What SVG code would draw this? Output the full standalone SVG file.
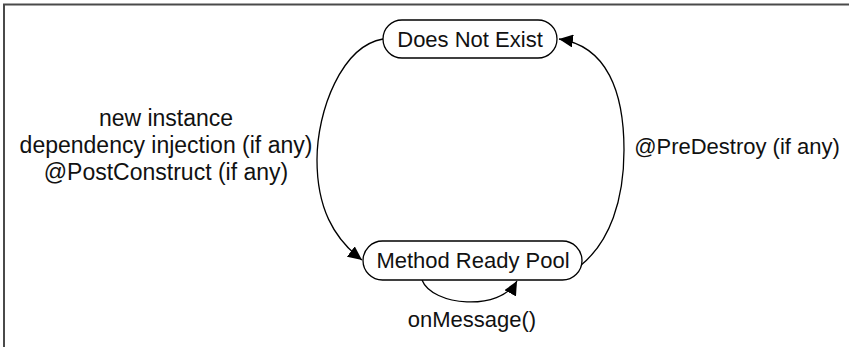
<svg xmlns="http://www.w3.org/2000/svg" width="849" height="347" viewBox="0 0 849 347">
  <style>
    .frame { stroke: #4a4a4a; stroke-width: 2; fill: none; }
    .state rect { fill: #ffffff; stroke: #000000; stroke-width: 1.3; }
    .label { font-family: "Liberation Sans", Arial, sans-serif; font-size: 22px; fill: #111111; text-anchor: middle; }
    .wide { font-size: 23px; }
    .edge { fill: none; stroke: #000000; stroke-width: 1.3; marker-end: url(#arrow); }
  </style>
  <defs>
    <marker id="arrow" markerUnits="userSpaceOnUse" markerWidth="15" markerHeight="13" refX="14" refY="6.5" orient="auto">
      <path d="M0,0 L14,6.5 L0,13 Z" fill="#000000"/>
    </marker>
  </defs>

  <rect width="849" height="347" fill="#ffffff"/>
  <!-- frame: top and left edges only -->
  <path class="frame" d="M4,347 V4.5 H849"/>

  <g id="connectors">
    <!-- creation: Does Not Exist -> Method Ready Pool -->
    <path class="edge" d="M383,39 C342,46 317,110 317,160 C317,207 333,238 362,260"/>
    <!-- removal: Method Ready Pool -> Does Not Exist -->
    <path class="edge" d="M580,266 C610,242 624,200 624,150 C624,92 607,46 559,39"/>
    <!-- onMessage self loop -->
    <path class="edge" d="M422,280 C432,306 500,312 517,281"/>
  </g>

  <g id="does-not-exist" class="state">
    <rect x="383" y="20" width="174" height="38" rx="19" ry="19"/>
    <text class="label" x="470" y="47">Does Not Exist</text>
  </g>

  <g id="method-ready-pool" class="state">
    <rect x="363" y="241" width="219" height="39" rx="19.5" ry="19.5"/>
    <text class="label" x="473" y="268">Method Ready Pool</text>
  </g>

  <g id="edge-labels">
    <text class="label wide" x="166" y="126">new instance</text>
    <text class="label wide" x="166" y="153">dependency injection (if any)</text>
    <text class="label wide" x="166" y="180">@PostConstruct (if any)</text>
    <text class="label" x="737" y="154">@PreDestroy (if any)</text>
    <text class="label" x="472" y="327">onMessage()</text>
  </g>
</svg>
